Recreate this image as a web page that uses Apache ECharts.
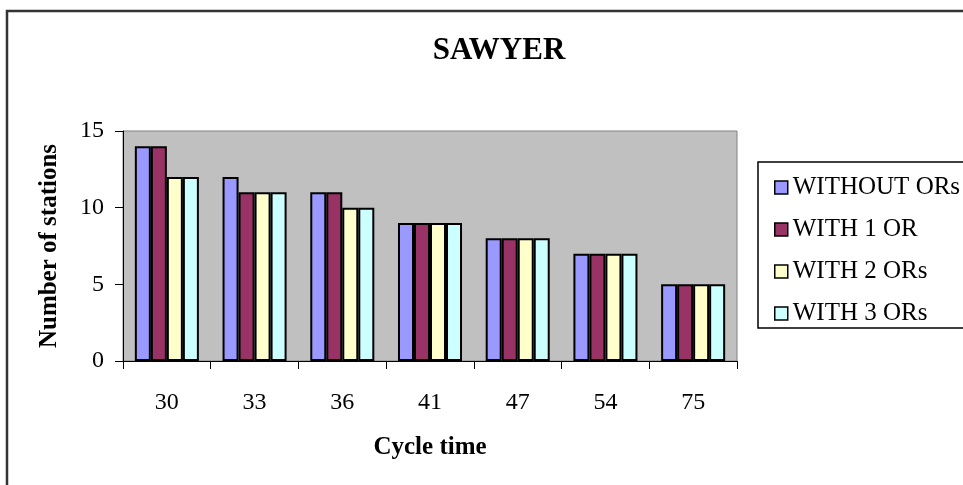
<!DOCTYPE html>
<html>
<head>
<meta charset="utf-8">
<script src="https://cdn.jsdelivr.net/npm/echarts@6/dist/echarts.min.js"></script>
<style>html,body{margin:0;padding:0;background:#fff;}#c{width:963px;height:485px;}</style>
</head>
<body>
<div id="c"></div>
<script>
const categories = ['30', '33', '36', '41', '47', '54', '75'];
const withoutORs = [14, 12, 11, 9, 8, 7, 5];
const with1OR = [14, 11, 11, 9, 8, 7, 5];
const with2ORs = [12, 11, 10, 9, 8, 7, 5];
const with3ORs = [12, 11, 10, 9, 8, 7, 5];
const seriesNames = ['WITHOUT ORs', 'WITH 1 OR', 'WITH 2 ORs', 'WITH 3 ORs'];
const seriesColors = ['#9999FF', '#993366', '#FFFFCC', '#CCFFFF'];
const seriesData = [withoutORs, with1OR, with2ORs, with3ORs];

const FONT = '"Liberation Serif", "Times New Roman", serif';
const chart = echarts.init(document.getElementById('c'), null, {renderer: 'canvas'});
chart.setOption({
  animation: false,
  backgroundColor: '#fff',
  textStyle: {fontFamily: FONT},
  title: {
    text: 'SAWYER',
    left: 494, top: 30, textAlign: 'center',
    textStyle: {fontFamily: FONT, fontWeight: 'bold', fontSize: 31, color: '#000'}
  },
  graphic: [
    {type: 'rect', z: -10, shape: {x: 7, y: 11, width: 1000, height: 520}, style: {fill: '#fff', stroke: '#333', lineWidth: 2.5}},
    {type: 'rect', z: 1, shape: {x: 758, y: 162, width: 230, height: 166}, style: {fill: '#fff', stroke: '#000', lineWidth: 1.5}}
  ],
  legend: {
    orient: 'vertical', left: 769, top: 170,
    itemWidth: 13, itemHeight: 13, itemGap: 17, icon: 'rect',
    itemStyle: {borderColor: '#000', borderWidth: 1.5},
    textStyle: {fontFamily: FONT, fontSize: 25, color: '#000', lineHeight: 25, padding: [0,0,0,0]},
    z: 5,
    data: seriesNames
  },
  grid: {left: 123, top: 131, right: 226, bottom: 124, show: true, backgroundColor: '#C0C0C0', borderColor: '#808080', borderWidth: 1},
  xAxis: {
    type: 'category', data: categories,
    name: 'Cycle time', nameLocation: 'middle', nameGap: 87,
    nameTextStyle: {fontFamily: FONT, fontWeight: 'bold', fontSize: 25, color: '#000', verticalAlign: 'middle'},
    axisLine: {lineStyle: {color: '#000', width: 1}},
    axisTick: {show: true, length: 8, lineStyle: {color: '#000'}},
    axisLabel: {fontFamily: FONT, fontSize: 24, color: '#000', margin: 30},
    splitLine: {show: false}
  },
  yAxis: {
    type: 'value', min: 0, max: 15, interval: 5,
    name: 'Number of stations', nameLocation: 'middle', nameGap: 73, nameRotate: 90,
    nameTextStyle: {fontFamily: FONT, fontWeight: 'bold', fontSize: 25, color: '#000', verticalAlign: 'middle'},
    axisLine: {show: true, lineStyle: {color: '#000', width: 1}},
    axisTick: {show: true, length: 8, lineStyle: {color: '#000'}},
    axisLabel: {fontFamily: FONT, fontSize: 24, color: '#000', margin: 19},
    splitLine: {show: false}
  },
  series: seriesNames.map((n, i) => ({
    name: n, type: 'bar', data: seriesData[i],
    barGap: '0%', barCategoryGap: '27%',
    itemStyle: {color: seriesColors[i], borderColor: '#000', borderWidth: 2}
  }))
});
</script>
</body>
</html>
